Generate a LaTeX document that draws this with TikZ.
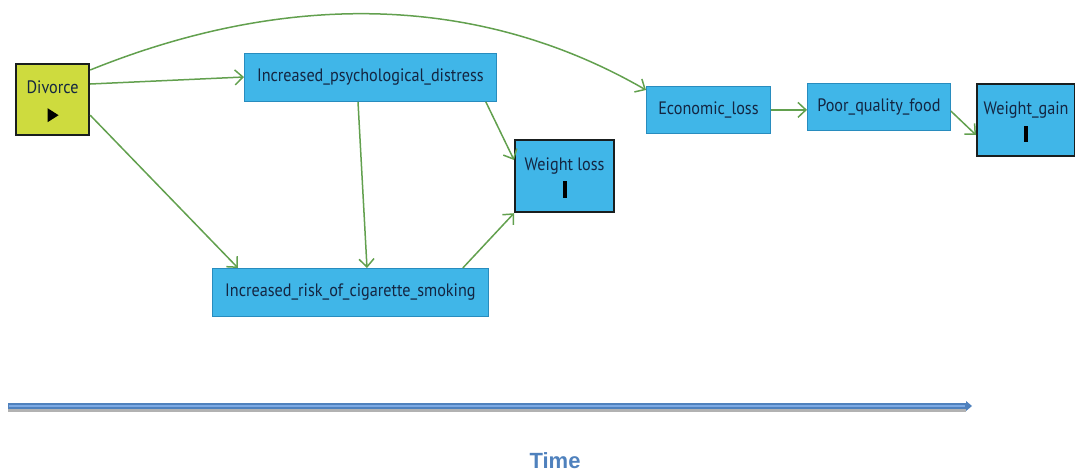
\documentclass[tikz,border=0pt]{standalone}
\usepackage{fontspec}
\usetikzlibrary{arrows.meta}
\newfontfamily\boxfont{PT Sans}[FakeStretch=0.9]
\newfontfamily\timefont{Liberation Sans}
\definecolor{boxblue}{RGB}{64,182,232}
\definecolor{boxedge}{RGB}{40,140,190}
\definecolor{lime}{RGB}{206,219,62}
\definecolor{darkedge}{RGB}{25,30,30}
\definecolor{linkgreen}{RGB}{98,160,78}
\definecolor{labelink}{RGB}{20,38,66}
\definecolor{timeblue}{RGB}{79,129,189}
\definecolor{timelight}{RGB}{125,170,228}
\begin{document}
\begin{tikzpicture}[x=1pt,y=-1pt,
  box/.style={draw=boxedge, line width=0.8pt, fill=boxblue, anchor=north west,
    inner sep=0pt, font=\boxfont\fontsize{18}{20}\selectfont, text=labelink},
  keybox/.style={box, draw=darkedge, line width=2.2pt},
  link/.style={draw=linkgreen, line width=1.5pt,
    -{Straight Barb[length=8pt,width=15pt,line width=1.5pt]}},
  marker/.style={fill=black}]
\useasboundingbox (0,0) rectangle (1075,474);

% causal nodes
\node[keybox, fill=lime, minimum width=73pt, minimum height=71pt,
  text height=19pt, text depth=32pt, inner ysep=10pt] (div) at (15,63) {Divorce};
\node[box, minimum width=252pt, minimum height=48pt] (psy) at (244,53) {Increased\_psychological\_distress};
\node[keybox, minimum width=99pt, minimum height=72pt,
  text height=20pt, text depth=32pt, inner ysep=10pt] (wl) at (514,139) {Weight loss};
\node[box, minimum width=276pt, minimum height=48pt] (smk) at (212,268) {Increased\_risk\_of\_cigarette\_smoking};
\node[box, minimum width=124pt, minimum height=47pt] (eco) at (646,86) {Economic\_loss};
\node[box, minimum width=143pt, minimum height=47pt] (pqf) at (807,83) {Poor\_quality\_food};
\node[keybox, minimum width=98pt, minimum height=71pt,
  text height=20pt, text depth=32pt, inner ysep=10pt] (wg) at (976,83) {Weight\_gain};

% state markers inside the key nodes
\fill[marker] ([xshift=-5pt,yshift=14pt]div.south) -- ++(11pt,7pt) -- ++(-11pt,7pt) -- cycle;
\fill[marker] ([xshift=-2pt,yshift=15pt]wl.south) rectangle ++(4pt,17pt);
\fill[marker] ([xshift=-2pt,yshift=15pt]wg.south) rectangle ++(4pt,16pt);

% causal links
\draw[link] ([yshift=-21pt]div.north east) -- ([yshift=-24pt]psy.north west);
\draw[link] ([yshift=-7pt]div.north east) .. controls (283,-8) and (476,-8) .. ([yshift=-4pt]eco.north west);
\draw[link] ([yshift=21pt]div.south east) -- ([xshift=26pt]smk.north west);
\draw[link] ([xshift=114pt]psy.south west) -- ([xshift=155pt]smk.north west);
\draw[link] ([xshift=-11pt]psy.south east) -- ([yshift=-21pt]wl.north west);
\draw[link] ([xshift=-26pt]smk.north east) -- (wl.south west);
\draw[link] (eco.east) -- (eco.east -| pqf.west);
\draw[link] ([yshift=-28pt]pqf.north east) -- ([yshift=-52pt]wg.north west);

% time axis
\coordinate (t0) at (8,406);
\coordinate (t1) at (966,406);
\draw[line width=3pt, black!30] ([yshift=-4pt]t0) -- ([yshift=-4pt]t1);
\draw[line width=5.5pt, timeblue] (t0) -- (t1);
\draw[line width=2pt, timelight] ([xshift=1pt]t0) -- ([xshift=-1pt]t1);
\fill[timeblue] ([yshift=5pt]t1) -- ++(6pt,-5pt) -- ++(-6pt,-5pt) -- cycle;
\node[font=\timefont\bfseries\fontsize{22}{25}\selectfont, text=timeblue] (time) at (555,461) {Time};
\end{tikzpicture}
\end{document}
